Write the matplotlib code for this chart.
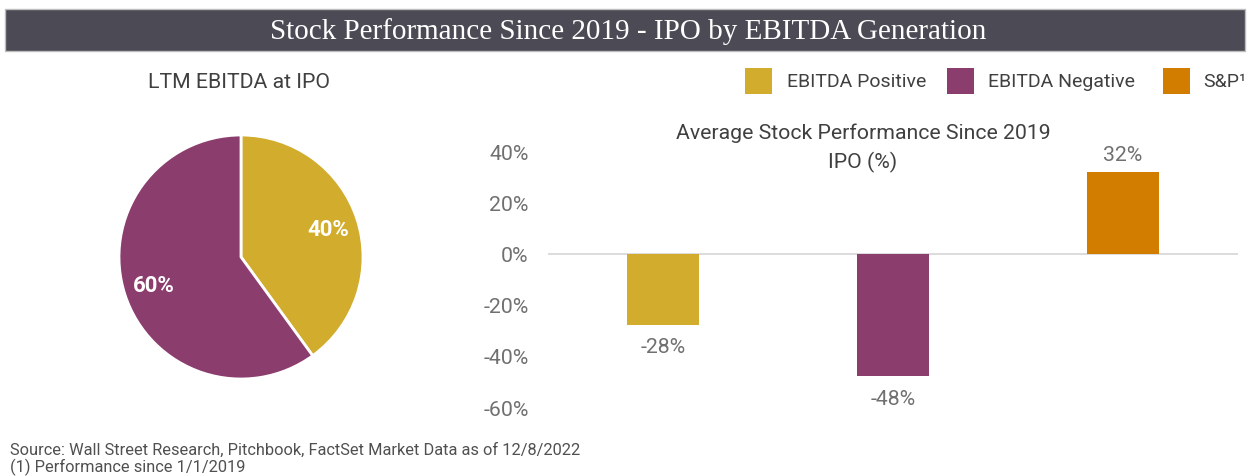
import numpy as np
import matplotlib
matplotlib.use('Agg')
import matplotlib.pyplot as plt
from matplotlib.patches import Rectangle

# data
pie_labels = ['EBITDA Positive', 'EBITDA Negative']
pie_shares = [40, 60]
bar_cats = ['EBITDA Positive', 'EBITDA Negative', 'S&P¹']
bar_vals = [-0.28, -0.48, 0.32]
yticks = [-0.6, -0.4, -0.2, 0.0, 0.2, 0.4]

colors = ['#D2AC2D', '#8B3D6E', '#D27D00']
grey_txt = '#707070'
dark_txt = '#404040'

W, H = 1253, 477
fig = plt.figure(figsize=(W/100, H/100), dpi=100)
plt.rcParams['font.family'] = ['Roboto', 'DejaVu Sans']

def px(x0, y0, w, h):
    # pixel box (top-left origin) -> figure fraction
    return [x0/W, 1 - (y0 + h)/H, w/W, h/H]

# title bar
fig.patches.append(Rectangle((5/W, 1 - 52/H), 1240/W, 42/H, transform=fig.transFigure,
                             facecolor='#4B4A55', edgecolor='#BDBDBD', lw=1))
fig.text(628/W, 1 - 32/H, 'Stock Performance Since 2019 - IPO by EBITDA Generation',
         color='white', fontsize=21, family='Liberation Serif', ha='center', va='center')

# pie
fig.text(239/W, 1 - 83/H, 'LTM EBITDA at IPO', color=dark_txt, fontsize=15.3, ha='center', va='center')
axp = fig.add_axes(px(119, 136, 244, 244))
wedges, _ = axp.pie(pie_shares, colors=colors[:2], startangle=90, counterclock=False, radius=1,
                    wedgeprops=dict(edgecolor='white', linewidth=2))
for w, s in zip(wedges, pie_shares):
    ang = np.deg2rad((w.theta1 + w.theta2) / 2)
    axp.text(0.75*np.cos(ang), 0.75*np.sin(ang), f'{s}%', color='white', fontsize=16,
             fontweight='bold', ha='center', va='center')
axp.set_xlim(-1, 1)
axp.set_ylim(-1, 1)
axp.set_aspect('equal')
axp.axis('off')

# bar chart
ax = fig.add_axes(px(548, 152.5, 690, 255.5))
x = np.arange(len(bar_vals))
ax.bar(x, bar_vals, width=0.313, color=colors)
ax.axhline(0, color='#D5D5D5', lw=1.2, zorder=0)
for xi, v in zip(x, bar_vals):
    off = 0.07 if v > 0 else -0.085
    ax.text(xi, v + off, f'{v*100:.0f}%', color=grey_txt, fontsize=15.3, ha='center', va='center')
ax.set_xlim(-0.5, 2.5)
ax.set_ylim(-0.6, 0.4)
ax.set_yticks(yticks)
ax.set_yticklabels([f'{t*100:.0f}%' for t in yticks])
ax.tick_params(axis='y', length=0, pad=14, labelsize=15.3, labelcolor=grey_txt)
ax.set_xticks([])
for s in ax.spines.values():
    s.set_visible(False)
ax.patch.set_alpha(0)

fig.text(863/W, 1 - 133/H, 'Average Stock Performance Since 2019', color=dark_txt, fontsize=15.3,
         ha='center', va='center')
fig.text(863/W, 1 - 162/H, 'IPO (%)', color=dark_txt, fontsize=15.3, ha='center', va='center')

# legend
for (lx, tx), lab, c in zip([(745, 787), (947, 988), (1163, 1203)], bar_cats, colors):
    fig.patches.append(Rectangle((lx/W, 1 - 95/H), 27/W, 26/H, transform=fig.transFigure,
                                 facecolor=c, edgecolor='none'))
    fig.text(tx/W, 1 - 82/H, lab, color=dark_txt, fontsize=14, ha='left', va='center')

# footer
fig.text(10/W, 1 - 450/H, 'Source: Wall Street Research, Pitchbook, FactSet Market Data as of 12/8/2022',
         color='#505050', fontsize=11.8, ha='left', va='center')
fig.text(10/W, 1 - 467/H, '(1) Performance since 1/1/2019', color='#505050', fontsize=11.8,
         ha='left', va='center')

fig.savefig('out.png', dpi=100)
plt.close(fig)
